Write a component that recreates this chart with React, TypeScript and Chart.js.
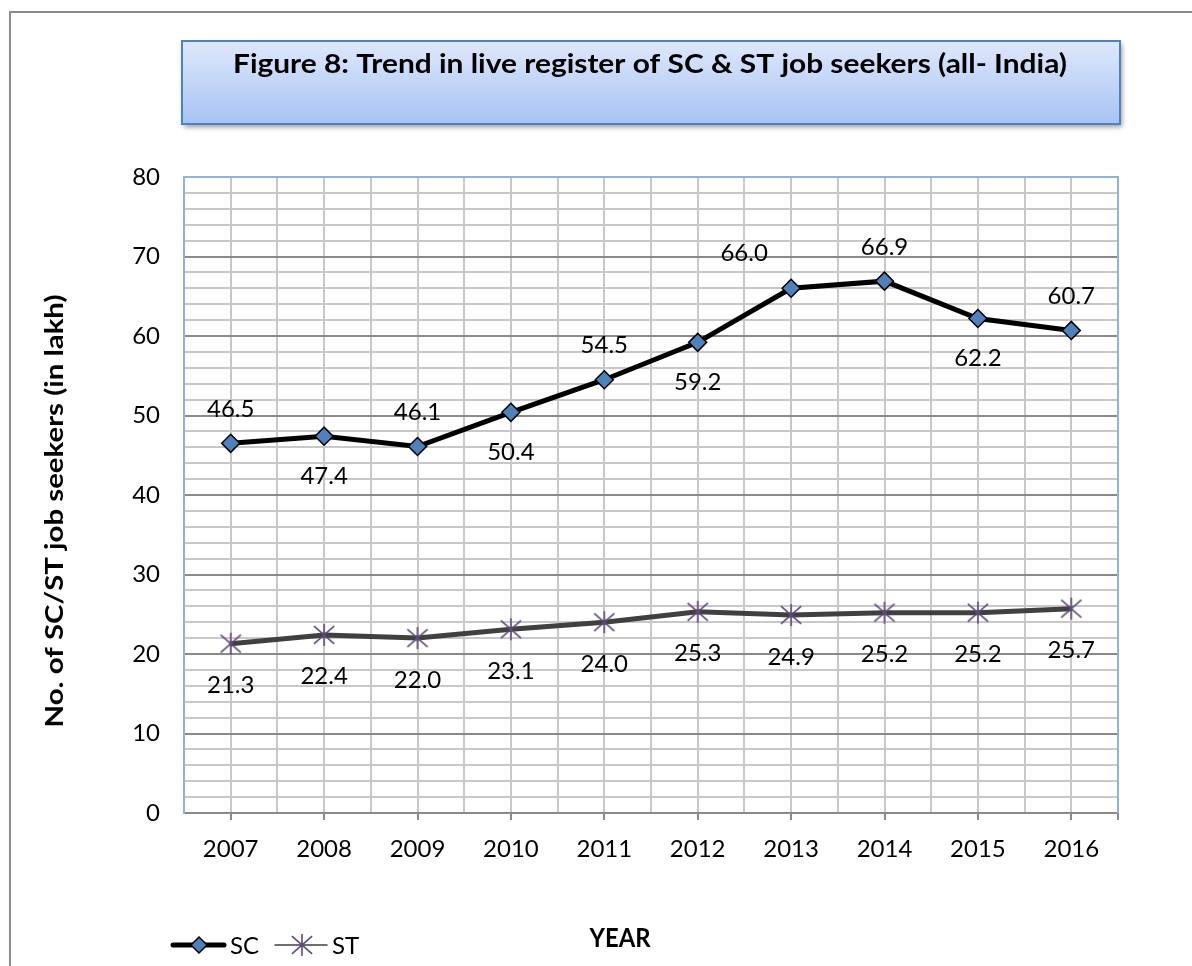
import React, { useEffect, useRef } from 'react';
import { Chart, registerables } from 'chart.js';

Chart.register(...registerables);

// ---------- data ----------
const years = ['2007', '2008', '2009', '2010', '2011', '2012', '2013', '2014', '2015', '2016'];
const scValues = [46.5, 47.4, 46.1, 50.4, 54.5, 59.2, 66.0, 66.9, 62.2, 60.7];
const stValues = [21.3, 22.4, 22.0, 23.1, 24.0, 25.3, 24.9, 25.2, 25.2, 25.7];
const yTickValues = [0, 10, 20, 30, 40, 50, 60, 70, 80];
const seriesNames = ['SC', 'ST'];
const scLabelPlacement = ['above', 'below', 'above', 'below', 'above', 'below', 'aboveLeft', 'above', 'below', 'above'];
const stLabelPlacement = ['below', 'below', 'below', 'below', 'below', 'below', 'below', 'below', 'below', 'below'];
const titleText = 'Figure 8: Trend in live register of SC & ST job seekers (all- India)';
const yAxisTitle = 'No. of SC/ST job seekers (in lakh)';
const xAxisTitle = 'YEAR';

const FONT = 'Lato, "Open Sans", sans-serif';
const SC_LINE = '#000000';
const SC_FILL = '#4f81bd';
const ST_LINE = '#404040';
const ST_MARK = '#5f497a';
const GRID_MINOR = '#c8c8c8';
const GRID_MAJOR = '#8a8a8a';
const PLOT_EDGE = '#8db3e2';

function makeAsterisk(size: number, color: string, lw: number): HTMLCanvasElement {
  const c = document.createElement('canvas');
  c.width = size;
  c.height = size;
  const g = c.getContext('2d')!;
  g.strokeStyle = color;
  g.lineWidth = lw;
  g.lineCap = 'butt';
  const h = size / 2;
  const r = h - 1;
  const dx = r * 0.92;
  const dy = r * 0.8;
  g.beginPath();
  g.moveTo(h, h - r);
  g.lineTo(h, h + r);
  g.moveTo(h - dx, h - dy);
  g.lineTo(h + dx, h + dy);
  g.moveTo(h + dx, h - dy);
  g.lineTo(h - dx, h + dy);
  g.stroke();
  return c;
}

// draws text with given font size, horizontally squeezed to a target width
function drawFitted(ctx: CanvasRenderingContext2D, text: string, weight: string, size: number, target: number, x: number, y: number) {
  ctx.font = `${weight} ${size}px ${FONT}`;
  const w = ctx.measureText(text).width;
  const sx = target / w;
  ctx.save();
  ctx.translate(x, y);
  ctx.scale(sx, 1);
  ctx.textAlign = 'center';
  ctx.textBaseline = 'alphabetic';
  ctx.fillText(text, 0, 0);
  ctx.restore();
}

function drawDiamond(ctx: CanvasRenderingContext2D, x: number, y: number, r: number) {
  ctx.beginPath();
  ctx.moveTo(x, y - r);
  ctx.lineTo(x + r, y);
  ctx.lineTo(x, y + r);
  ctx.lineTo(x - r, y);
  ctx.closePath();
  ctx.fillStyle = SC_FILL;
  ctx.fill();
  ctx.strokeStyle = '#000';
  ctx.lineWidth = 1.5;
  ctx.stroke();
}

let starImg: HTMLCanvasElement;

const decorPlugin = {
  id: 'decor',
  beforeDraw(chart: any) {
    const ctx: CanvasRenderingContext2D = chart.ctx;
    ctx.save();
    ctx.fillStyle = '#ffffff';
    ctx.fillRect(0, 0, chart.width, chart.height);
    // outer frame
    ctx.strokeStyle = '#8c8c8c';
    ctx.lineWidth = 2;
    ctx.strokeRect(10, 12, chart.width + 10, chart.height + 10);
    // title box
    const bx = 182, by = 41, bw = 938, bh = 83;
    const grad = ctx.createLinearGradient(0, by, 0, by + bh);
    grad.addColorStop(0, '#dfe8fb');
    grad.addColorStop(1, '#a6c3f4');
    ctx.shadowColor = 'rgba(0,0,0,0.4)';
    ctx.shadowBlur = 5;
    ctx.shadowOffsetX = 2;
    ctx.shadowOffsetY = 3;
    ctx.fillStyle = grad;
    ctx.fillRect(bx, by, bw, bh);
    ctx.shadowColor = 'transparent';
    ctx.strokeStyle = '#4f81bd';
    ctx.lineWidth = 2;
    ctx.strokeRect(bx, by, bw, bh);
    ctx.fillStyle = '#000';
    drawFitted(ctx, titleText, 'bold', 27, 834, 650, 73);
    ctx.restore();
  },
  beforeDatasetsDraw(chart: any) {
    const ctx: CanvasRenderingContext2D = chart.ctx;
    const a = chart.chartArea;
    ctx.save();
    ctx.strokeStyle = PLOT_EDGE;
    ctx.lineWidth = 2;
    ctx.beginPath();
    ctx.moveTo(a.left, a.top);
    ctx.lineTo(a.right, a.top);
    ctx.lineTo(a.right, a.bottom);
    ctx.stroke();
    ctx.restore();
  },
  afterDatasetsDraw(chart: any) {
    const ctx: CanvasRenderingContext2D = chart.ctx;
    ctx.save();
    ctx.fillStyle = '#000';
    ctx.font = `24px ${FONT}`;
    ctx.textAlign = 'center';
    ctx.textBaseline = 'alphabetic';
    const placements = [scLabelPlacement, stLabelPlacement];
    const values = [scValues, stValues];
    [0, 1].forEach((di) => {
      const meta = chart.getDatasetMeta(di);
      meta.data.forEach((pt: any, i: number) => {
        const p = placements[di][i];
        let dx = 0;
        let dy = di === 0 ? 39 : 41;
        if (p === 'above') dy = -35;
        if (p === 'aboveLeft') { dy = -36; dx = -47; }
        ctx.fillText(values[di][i].toFixed(1), pt.x + dx, pt.y + dy + 8.5);
      });
    });

    // y-axis title
    ctx.save();
    ctx.translate(63, 511);
    ctx.rotate(-Math.PI / 2);
    drawFitted(ctx, yAxisTitle, 'bold', 25, 433, 0, 0);
    ctx.restore();

    // x-axis title
    drawFitted(ctx, xAxisTitle, 'bold', 26, 61, 620, 947);

    // legend
    const ly = 945;
    ctx.lineCap = 'round';
    ctx.lineWidth = 5;
    ctx.strokeStyle = SC_LINE;
    ctx.beginPath();
    ctx.moveTo(173, ly);
    ctx.lineTo(224, ly);
    ctx.stroke();
    drawDiamond(ctx, 199, ly, 8);
    ctx.strokeStyle = ST_LINE;
    ctx.beginPath();
    ctx.moveTo(275, ly);
    ctx.lineTo(327, ly);
    ctx.stroke();
    ctx.drawImage(starImg, 302 - starImg.width / 2, ly - starImg.height / 2);
    ctx.fillStyle = '#000';
    ctx.font = `24px ${FONT}`;
    ctx.textAlign = 'left';
    ctx.fillText(seriesNames[0], 230, 954);
    ctx.fillText(seriesNames[1], 332, 954);
    ctx.restore();
  },
};

export default function App() {
  const ref = useRef<HTMLCanvasElement>(null);

  useEffect(() => {
    if (!ref.current) return;
    starImg = makeAsterisk(24, ST_MARK, 1.6);
    const chart = new Chart(ref.current, {
      type: 'line',
      data: {
        datasets: [
          {
            label: seriesNames[0],
            data: scValues.map((v, i) => ({ x: i, y: v })),
            borderColor: SC_LINE,
            borderWidth: 5,
            pointStyle: 'rectRot',
            pointRadius: 9,
            pointBackgroundColor: SC_FILL,
            pointBorderColor: '#000',
            pointBorderWidth: 1.5,
            tension: 0,
          },
          {
            label: seriesNames[1],
            data: stValues.map((v, i) => ({ x: i, y: v })),
            borderColor: ST_LINE,
            borderWidth: 5,
            pointStyle: starImg as any,
            pointRadius: 11,
            tension: 0,
          },
        ],
      },
      options: {
        animation: false,
        responsive: false,
        events: [],
        layout: { padding: { left: 0, top: 177, right: 74, bottom: 93 } },
        plugins: {
          legend: { display: false },
          title: { display: false },
          tooltip: { enabled: false },
        },
        scales: {
          x: {
            type: 'linear',
            min: -0.5,
            max: 9.5,
            afterBuildTicks: (scale: any) => {
              const t = [];
              for (let k = 0; k <= years.length * 2; k++) t.push({ value: -0.5 + k * 0.5 });
              scale.ticks = t;
            },
            afterFit: (scale: any) => { scale.height = 60; },
            ticks: {
              autoSkip: false,
              maxRotation: 0,
              color: '#000',
              font: { family: FONT, size: 24 },
              padding: 15,
              callback: (v: any) => (Number.isInteger(v) ? years[v] : ''),
            },
            grid: {
              color: GRID_MINOR,
              lineWidth: 2,
              tickLength: 7,
              tickColor: (ctx: any) => {
                const v = ctx.tick ? ctx.tick.value : 0;
                return Number.isInteger(v) || v === 9.5 ? GRID_MAJOR : 'rgba(0,0,0,0)';
              },
            },
            border: { color: GRID_MAJOR, width: 2 },
          },
          y: {
            type: 'linear',
            min: 0,
            max: 80,
            afterBuildTicks: (scale: any) => {
              const t = [];
              for (let v = 0; v <= 80; v += 2) t.push({ value: v });
              scale.ticks = t;
            },
            afterFit: (scale: any) => { scale.width = 184; },
            ticks: {
              autoSkip: false,
              color: '#000',
              font: { family: FONT, size: 24 },
              padding: 24,
              callback: (v: any) => (yTickValues.includes(v) ? String(v) : ''),
            },
            grid: {
              drawTicks: false,
              lineWidth: 2,
              color: (ctx: any) => {
                const v = ctx.tick ? ctx.tick.value : 0;
                return yTickValues.includes(v) ? GRID_MAJOR : GRID_MINOR;
              },
            },
            border: { color: PLOT_EDGE, width: 2 },
          },
        },
      },
      plugins: [decorPlugin],
    });
    return () => chart.destroy();
  }, []);

  return (
    <div style={{ position: 'fixed', left: 0, top: 0, width: 1192, height: 966, background: '#fff' }}>
      <canvas ref={ref} width={1192} height={966} style={{ display: 'block', width: 1192, height: 966 }} />
    </div>
  );
}
